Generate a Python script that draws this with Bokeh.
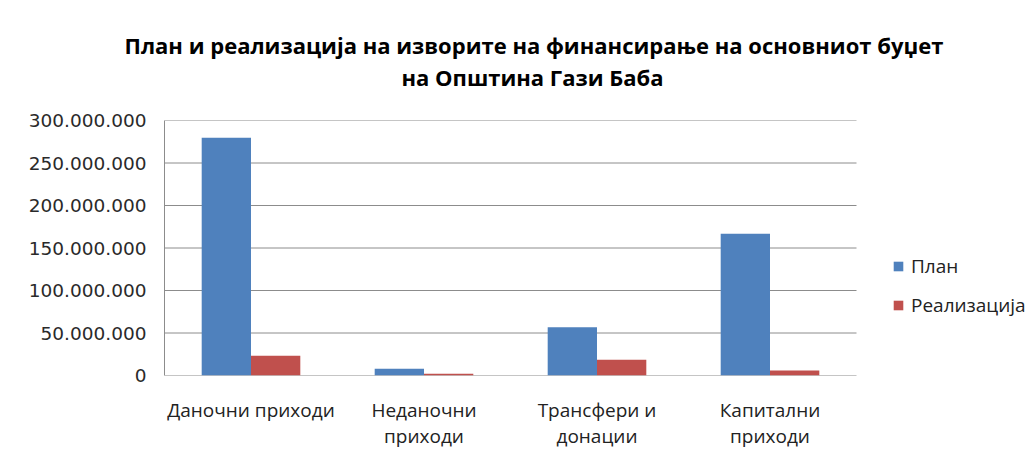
from bokeh.plotting import figure
from bokeh.models import Range1d, FixedTicker, Legend, LegendItem, LinearAxis, Title, ColumnDataSource
from bokeh.embed import file_html
from bokeh.resources import INLINE

categories = ["Даночни приходи", "Неданочни приходи", "Трансфери и донации", "Капитални приходи"]
label_line1 = ["Даночни приходи", "Неданочни", "Трансфери и", "Капитални"]
label_line2 = ["", "приходи", "донации", "приходи"]
plan = [279600000, 7900000, 56900000, 166700000]
realizacija = [23200000, 2000000, 18500000, 5900000]
series_names = ["План", "Реализација"]
y_ticks = [0, 50000000, 100000000, 150000000, 200000000, 250000000, 300000000]
y_tick_labels = ["0", "50.000.000", "100.000.000", "150.000.000", "200.000.000", "250.000.000", "300.000.000"]
title_lines = ["План и реализација на изворите на финансирање на основниот буџет", "на Општина Гази Баба"]

BLUE = "#4F81BD"
RED = "#C0504D"
GRID = "#8C8C8C"
FONT = "Open Sans"

W, H = 1028, 458
LEFT, TOP, BOTTOM = 164, 120, 83
AREA_W = 692            # width of the plotting area (gridlines), px
FRAME_W = W - LEFT      # frame runs to the right edge so the legend is not clipped

n = len(categories)
centers = [i + 0.5 for i in range(n)]  # position of each category on the x scale
bw = 0.285

p = figure(x_range=Range1d(0, n * FRAME_W / AREA_W), y_range=Range1d(0, y_ticks[-1]),
           width=W, height=H, output_backend="svg", toolbar_location=None,
           x_axis_location=None,
           min_border_left=LEFT, min_border_right=0, min_border_top=TOP, min_border_bottom=BOTTOM)
p.outline_line_color = None
p.xgrid.grid_line_color = None
p.ygrid.grid_line_color = None

# horizontal gridlines across the plotting area only
p.segment(x0=0, x1=n, y0=y_ticks, y1=y_ticks, line_color=GRID, line_width=1)

src = ColumnDataSource(dict(cat=categories, plan=plan, real=realizacija,
                            xp=[c - bw / 2 for c in centers], xr=[c + bw / 2 for c in centers]))
r1 = p.vbar(x="xp", top="plan", width=bw, source=src, fill_color=BLUE, line_color=None)
r2 = p.vbar(x="xr", top="real", width=bw, source=src, fill_color=RED, line_color=None)

# y axis
p.yaxis.ticker = FixedTicker(ticks=y_ticks)
p.yaxis.major_label_overrides = {t_: l for t_, l in zip(y_ticks, y_tick_labels)}
p.yaxis.major_tick_line_color = None
p.yaxis.major_tick_out = 0
p.yaxis.minor_tick_line_color = None
p.yaxis.minor_tick_out = 0
p.yaxis.axis_line_color = GRID
p.yaxis.major_label_standoff = 18
p.yaxis.major_label_text_font = "DejaVu Sans"
p.yaxis.major_label_text_font_size = "18.5px"
p.yaxis.major_label_text_color = "#2a2a2a"

# category labels, two lines = two stacked axes
for line, standoff in ((label_line1, 21), (label_line2, -3)):
    ax = LinearAxis(ticker=FixedTicker(ticks=centers),
                    major_label_overrides={c: l for c, l in zip(centers, line)},
                    axis_line_color=None, major_tick_line_color=None, minor_tick_line_color=None,
                    major_tick_out=0, minor_tick_out=0, major_label_standoff=standoff,
                    major_label_text_font=FONT, major_label_text_font_size="19px",
                    major_label_text_color="#222222")
    p.add_layout(ax, "below")

# title: spacer, then line 2, then line 1 (stacked upward)
p.add_layout(Title(text=" ", text_font_size="1px", standoff=25), "above")
title_offsets = [-40, 237]
for i in (1, 0):
    p.add_layout(Title(text=title_lines[i], align="left", offset=title_offsets[i],
                       vertical_align="middle", standoff=0,
                       text_font=FONT, text_font_style="bold", text_font_size="22px",
                       text_color="#000000"), "above")

legend = Legend(items=[LegendItem(label=series_names[0], renderers=[r1]),
                       LegendItem(label=series_names[1], renderers=[r2])],
                location=(AREA_W + 36, 57), orientation="vertical", glyph_width=12, glyph_height=12,
                label_text_font=FONT, label_text_font_size="19px", label_text_color="#222222",
                label_height=20, spacing=13, padding=0, margin=0, label_standoff=7,
                border_line_color=None, background_fill_alpha=0)
p.add_layout(legend, "center")

open("out.html", "w").write(file_html(p, INLINE))
